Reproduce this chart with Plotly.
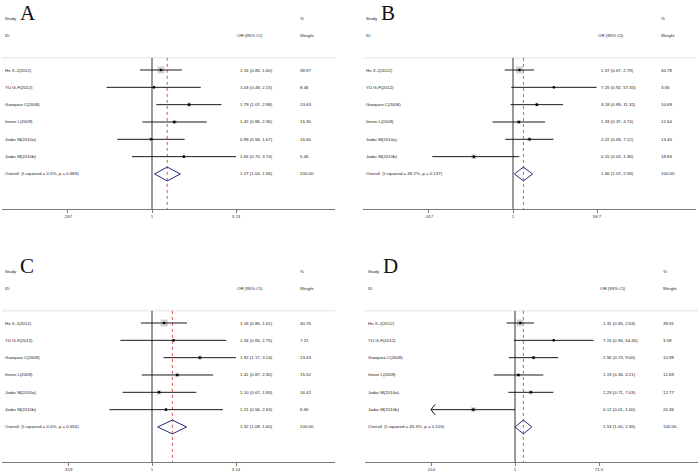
import math
import plotly.graph_objects as go

# ---------------- data ----------------
studies = ["He X-J(2012)", "YU G-F(2012)", "Gazquez C(2008)", "Imran L(2009)",
           "Jodar M(2010a)", "Jodar M(2010b)"]

a_or = [1.15, 1.03, 1.79, 1.42, 0.99, 1.65]
a_lo = [0.83, 0.49, 1.07, 0.86, 0.58, 0.73]
a_hi = [1.60, 2.15, 2.98, 2.36, 1.67, 3.74]
a_w = [38.97, 8.46, 13.63, 15.30, 16.66, 5.46]
a_overall = [1.27, 1.04, 1.56]
a_het = "I-squared = 0.0%, p = 0.669"
a_ticks = [0.267, 1, 3.74]
a_ticktext = [".267", "1", "3.74"]

b_or = [1.37, 7.25, 3.18, 1.33, 2.22, 0.15]
b_lo = [0.67, 0.92, 0.89, 0.37, 0.69, 0.02]
b_hi = [2.78, 57.33, 11.32, 4.74, 7.12, 1.36]
b_w = [40.78, 3.65, 10.69, 12.64, 13.40, 18.84]
b_overall = [1.66, 1.07, 2.58]
b_het = "I-squared = 48.2%, p = 0.137"
b_ticks = [0.017, 1, 58.7]
b_ticktext = [".017", "1", "58.7"]

c_or = [1.18, 1.34, 1.92, 1.41, 1.10, 1.21]
c_lo = [0.86, 0.65, 1.17, 0.87, 0.67, 0.56]
c_hi = [1.61, 2.75, 3.14, 2.30, 1.83, 2.63]
c_w = [40.76, 7.21, 13.43, 15.52, 16.42, 6.66]
c_overall = [1.32, 1.08, 1.60]
c_het = "I-squared = 0.0%, p = 0.654"
c_ticks = [0.319, 1, 3.14]
c_ticktext = [".319", "1", "3.14"]

d_or = [1.31, 7.15, 2.56, 1.19, 2.23, 0.12]
d_lo = [0.65, 0.94, 0.73, 0.34, 0.71, 0.01]
d_hi = [2.63, 54.46, 9.00, 4.21, 7.03, 1.00]
d_w = [39.31, 3.09, 10.98, 12.69, 12.77, 20.36]
d_overall = [1.53, 1.00, 2.36]
d_het = "I-squared = 45.3%, p = 0.103"
d_ticks = [0.014, 1, 71.5]
d_ticktext = [".014", "1", "71.5"]

panel_letters = ["A", "B", "C", "D"]
overall_weight = 100.00

panels = [
    dict(letter="A", orv=a_or, lo=a_lo, hi=a_hi, w=a_w, ov=a_overall, het=a_het, ticks=a_ticks, tt=a_ticktext),
    dict(letter="B", orv=b_or, lo=b_lo, hi=b_hi, w=b_w, ov=b_overall, het=b_het, ticks=b_ticks, tt=b_ticktext),
    dict(letter="C", orv=c_or, lo=c_lo, hi=c_hi, w=c_w, ov=c_overall, het=c_het, ticks=c_ticks, tt=c_ticktext),
    dict(letter="D", orv=d_or, lo=d_lo, hi=d_hi, w=d_w, ov=d_overall, het=d_het, ticks=d_ticks, tt=d_ticktext),
]

# ---------------- layout geometry (pixels) ----------------
W, H = 700, 472
origins = [(2, 0), (363, 0), (2, 253), (365, 253)]
W_AX = 333        # axis width
X1_OFF = 150      # position of OR = 1 inside the panel
TICK_OFF = 84     # pixel distance of outer ticks from OR = 1
AXIS_Y = 209      # axis line, from panel top
ROW0 = 70         # first study row, from panel top
ROW_H = 17.33     # row height

FONT = "Arial, Liberation Sans, sans-serif"
SERIF = "Times New Roman, Liberation Serif, serif"
TXT = 4.4
TXT_COL = "#222222"
OVERALL_ROW = len(studies)

fig = go.Figure()
annotations = []
shapes = []

for k, (p, (ox, oy)) in enumerate(zip(panels, origins), start=1):
    xa = "x" if k == 1 else f"x{k}"
    ya = "y" if k == 1 else f"y{k}"
    xkey = "xaxis" if k == 1 else f"xaxis{k}"
    ykey = "yaxis" if k == 1 else f"yaxis{k}"

    T = p["ticks"][-1]
    lmin = p["ticks"][0]
    lt = math.log10(T)
    xr = [-X1_OFF * lt / TICK_OFF, (W_AX - X1_OFF) * lt / TICK_OFF]
    ytop = -ROW0 / ROW_H
    ybot = (AXIS_Y - ROW0) / ROW_H
    top_line = -0.7

    fig.layout[xkey] = dict(
        type="log", range=xr, domain=[ox / W, (ox + W_AX) / W], anchor=ya,
        showline=True, linecolor="#7a7a7a", linewidth=1, mirror=False,
        ticks="outside", ticklen=3, tickwidth=1, tickcolor="#7a7a7a",
        tickvals=p["ticks"], ticktext=p["tt"], tickfont=dict(size=TXT, color="#333", family=FONT),
        showgrid=False, zeroline=False, fixedrange=True,
    )
    fig.layout[ykey] = dict(
        range=[ybot, ytop], domain=[1 - (oy + AXIS_Y) / H, 1 - oy / H], anchor=xa,
        visible=False, showgrid=False, zeroline=False, fixedrange=True,
    )

    rows = list(range(len(studies)))
    ov, ovlo, ovhi = p["ov"]

    # separator line under header
    shapes.append(dict(type="line", xref=f"{xa} domain", yref=ya, x0=0, x1=1, y0=top_line, y1=top_line,
                       line=dict(color="#e3e3e3", width=1), layer="below"))

    # null line (OR = 1)
    fig.add_trace(go.Scatter(x=[1, 1], y=[top_line, ybot], mode="lines", xaxis=xa, yaxis=ya,
                             line=dict(color="#333333", width=1), hoverinfo="skip", showlegend=False))
    # overall estimate dashed line
    fig.add_trace(go.Scatter(x=[ov, ov], y=[top_line, ybot], mode="lines", xaxis=xa, yaxis=ya,
                             line=dict(color="#e0555a", width=1, dash="dot"), hoverinfo="skip", showlegend=False))

    # weight boxes
    fig.add_trace(go.Scatter(x=p["orv"], y=rows, mode="markers", xaxis=xa, yaxis=ya,
                             marker=dict(symbol="square", size=[1.1 * math.sqrt(w) for w in p["w"]],
                                         color="#bdbdbd", line=dict(width=0)),
                             hoverinfo="skip", showlegend=False))

    # CI lines (clipped at axis tick limits)
    cx, cy = [], []
    chev_x, chev_y = [], []
    for r, lo, hi in zip(rows, p["lo"], p["hi"]):
        lo_c = max(lo, lmin * 0.999)
        hi_c = min(hi, T * 1.001)
        cx += [lo_c, hi_c, None]
        cy += [r, r, None]
        if lo < lmin * 0.99:
            f = 10 ** 0.09
            chev_x += [lo_c * f, lo_c, lo_c * f, None]
            chev_y += [r - 0.3, r, r + 0.3, None]
    fig.add_trace(go.Scatter(x=cx, y=cy, mode="lines", xaxis=xa, yaxis=ya,
                             line=dict(color="#1a1a1a", width=1), hoverinfo="skip", showlegend=False))
    if chev_x:
        fig.add_trace(go.Scatter(x=chev_x, y=chev_y, mode="lines", xaxis=xa, yaxis=ya,
                                 line=dict(color="#1a1a1a", width=1), hoverinfo="skip", showlegend=False))

    # point estimates
    fig.add_trace(go.Scatter(x=p["orv"], y=rows, mode="markers", xaxis=xa, yaxis=ya,
                             marker=dict(symbol="circle", size=2.6, color="#000000"),
                             hoverinfo="skip", showlegend=False))

    # overall diamond
    fig.add_trace(go.Scatter(x=[ovlo, ov, ovhi, ov, ovlo],
                             y=[OVERALL_ROW, OVERALL_ROW - 0.4, OVERALL_ROW, OVERALL_ROW + 0.4, OVERALL_ROW],
                             mode="lines", xaxis=xa, yaxis=ya,
                             line=dict(color="#252a82", width=1), hoverinfo="skip", showlegend=False))

    # ---------- texts ----------
    def add_text(xpx, yrow, text, size=TXT, family=FONT, yanchor="middle", color=TXT_COL):
        annotations.append(dict(xref=f"{xa} domain", yref=ya, x=xpx / W_AX, y=yrow, text=text,
                                showarrow=False, xanchor="left", yanchor=yanchor, borderpad=0,
                                font=dict(size=size, family=family, color=color)))

    add_text(2, -3, "Study")
    add_text(297, -3, "%")
    add_text(2, -2, "ID")
    add_text(234, -2, "OR (95% CI)")
    add_text(297, -2, "Weight")
    add_text(17, (26 - ROW0) / ROW_H, p["letter"], size=21, family=SERIF, yanchor="bottom", color="#111")

    for r, name, o, lo, hi, w in zip(rows, studies, p["orv"], p["lo"], p["hi"], p["w"]):
        add_text(2, r, name)
        add_text(237, r, f"{o:.2f} ({lo:.2f}, {hi:.2f})")
        add_text(297, r, f"{w:.2f}")
    add_text(2, OVERALL_ROW, "Overall\u00a0 (" + p["het"] + ")")
    add_text(237, OVERALL_ROW, f"{ov:.2f} ({ovlo:.2f}, {ovhi:.2f})")
    add_text(297, OVERALL_ROW, f"{overall_weight:.2f}")

fig.update_layout(
    width=W, height=H, autosize=False,
    margin=dict(l=0, r=0, t=0, b=0),
    paper_bgcolor="white", plot_bgcolor="white",
    annotations=annotations, shapes=shapes,
    showlegend=False,
    font=dict(family=FONT, size=TXT, color=TXT_COL),
)

fig.write_html("out.html",
               config={"displayModeBar": False},
               post_script="document.body.style.margin='0';document.body.style.overflow='hidden';")
